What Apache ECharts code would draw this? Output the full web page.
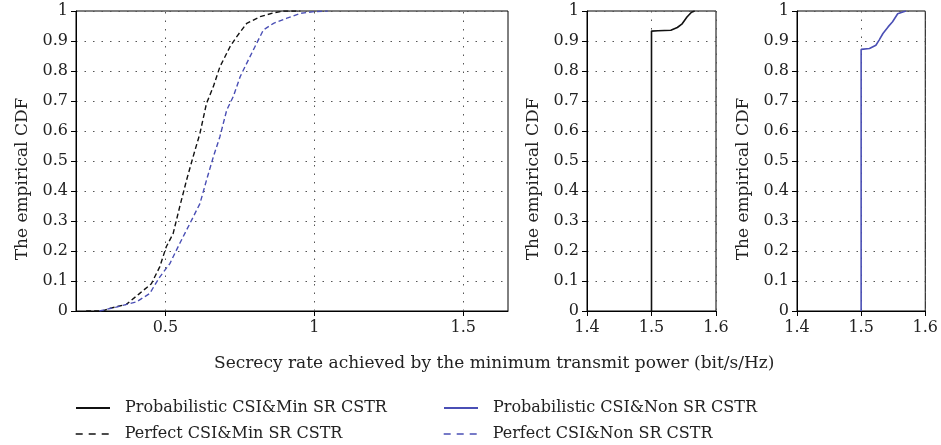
<!DOCTYPE html>
<html>
<head>
<meta charset="utf-8">
<script src="https://cdn.jsdelivr.net/npm/echarts@6/dist/echarts.min.js"></script>
<style>
  html, body { margin: 0; padding: 0; background: #fff; }
  #chart { width: 941px; height: 445px; }
</style>
</head>
<body>
<div id="chart"></div>
<script>
// ===== data =====
var perfectMin = [ // black dashed, main panel
    [0.234, 0], [0.29, 0], [0.31, 0.008], [0.369, 0.022], [0.413, 0.058], [0.453, 0.091],
    [0.481, 0.147], [0.503, 0.214], [0.526, 0.258], [0.548, 0.347], [0.571, 0.436],
    [0.593, 0.514], [0.616, 0.592], [0.638, 0.692], [0.661, 0.748], [0.683, 0.814],
    [0.717, 0.881], [0.739, 0.914], [0.773, 0.959], [0.818, 0.981], [0.863, 0.994],
    [0.897, 1], [0.953, 1]
];
var perfectNon = [ // blue dashed, main panel
    [0.279, 0], [0.335, 0.013], [0.402, 0.03], [0.447, 0.058], [0.481, 0.113], [0.515, 0.158],
    [0.548, 0.225], [0.582, 0.291], [0.616, 0.358], [0.638, 0.436], [0.661, 0.514],
    [0.683, 0.581], [0.706, 0.67], [0.728, 0.715], [0.751, 0.781], [0.784, 0.848],
    [0.829, 0.937], [0.863, 0.959], [0.908, 0.976], [0.953, 0.992], [1.0, 0.998], [1.045, 1]
];
var probMin = [ // black solid, middle panel
    [1.5, 0], [1.5, 0.933], [1.51, 0.934], [1.53, 0.936], [1.54, 0.945], [1.547, 0.956],
    [1.555, 0.98], [1.562, 0.996], [1.567, 1]
];
var probNon = [ // blue solid, right panel
    [1.5, 0], [1.5, 0.872], [1.513, 0.875], [1.523, 0.886], [1.528, 0.903], [1.534, 0.925],
    [1.542, 0.947], [1.549, 0.964], [1.557, 0.991], [1.565, 0.997], [1.57, 1]
];
var mainTicks = [0.5, 1, 1.5];
var names = [
    'Probabilistic CSI&Min SR CSTR',
    'Perfect CSI&Min SR CSTR',
    'Probabilistic CSI&Non SR CSTR',
    'Perfect CSI&Non SR CSTR'
];
var yTitle = 'The empirical CDF';
var xTitle = 'Secrecy rate achieved by the minimum transmit power (bit/s/Hz)';

var FONT = 'DejaVu Serif';
var BLUE = '#4a4fb5';
var chart = echarts.init(document.getElementById('chart'));

var gridLine = { show: true, lineStyle: { color: '#555', type: [1.5, 7], width: 1 } };

function yAx(idx) {
    return {
        gridIndex: idx, type: 'value', min: 0, max: 1, interval: 0.1,
        name: yTitle, nameLocation: 'middle', nameGap: 45, nameRotate: 90,
        // 标题比网格中心略靠下，用右侧 padding 推下去
        nameTextStyle: { fontFamily: FONT, fontSize: 17, color: '#222', padding: [0, 36, 0, 0] },
        axisLine: { show: true, lineStyle: { color: '#000' } },
        axisTick: { show: true, length: 5, lineStyle: { color: '#000' } },
        axisLabel: { fontFamily: FONT, fontSize: 16, color: '#222', margin: 8 },
        splitLine: gridLine
    };
}
function xSmall(idx) {
    return {
        gridIndex: idx, type: 'value', min: 1.4, max: 1.6, interval: 0.1,
        axisLine: { show: true, onZero: false, lineStyle: { color: '#000' } },
        axisTick: { show: true, length: 5, lineStyle: { color: '#000' } },
        axisLabel: { fontFamily: FONT, fontSize: 16, color: '#222', margin: 9,
            formatter: function (v) { return v.toFixed(1); } },
        splitLine: gridLine
    };
}
// 图例：每项单独一个 legend，手动摆位置
function legendAt(name, left, top, dashed) {
    var lg = {
        left: left, top: top, itemWidth: 34, itemHeight: 14,
        data: [name],
        itemStyle: { opacity: 0 },
        textStyle: { fontFamily: FONT, fontSize: 16, color: '#222', padding: [0, 0, 0, 10] }
    };
    if (dashed) lg.lineStyle = { type: [7, 6], width: 1.4 };
    return lg;
}

var option = {
    backgroundColor: '#fff',
    animation: false,
    grid: [
        { left: 76, top: 11, width: 432, height: 300, show: true, borderColor: '#000', borderWidth: 1 },
        { left: 587, top: 11, width: 129, height: 300, show: true, borderColor: '#000', borderWidth: 1 },
        { left: 797, top: 11, width: 129, height: 300, show: true, borderColor: '#000', borderWidth: 1 }
    ],
    xAxis: [
        {
            gridIndex: 0, type: 'value', min: 0.2, max: 1.65,
            axisLine: { show: true, onZero: false, lineStyle: { color: '#000' } },
            axisTick: { show: true, length: 5, customValues: mainTicks, lineStyle: { color: '#000' } },
            axisLabel: { fontFamily: FONT, fontSize: 16, color: '#222', margin: 9, customValues: mainTicks },
            splitLine: { show: false }
        },
        xSmall(1),
        xSmall(2)
    ],
    yAxis: [yAx(0), yAx(1), yAx(2)],
    legend: [
        legendAt(names[0], 70, 395, false),
        legendAt(names[1], 70, 421, true),
        legendAt(names[2], 438, 395, false),
        legendAt(names[3], 438, 421, true)
    ],
    graphic: [{
        type: 'text', left: 214, top: 355,
        style: { text: xTitle, fontFamily: FONT, fontSize: 17, fill: '#222' }
    }],
    series: [
        {
            name: names[1], type: 'line', xAxisIndex: 0, yAxisIndex: 0, data: perfectMin,
            symbol: 'none', color: '#111', lineStyle: { color: '#111', width: 1.4, type: [5, 3] },
            markLine: {
                silent: true, symbol: 'none', label: { show: false },
                lineStyle: { color: '#555', type: [1.5, 7], width: 1 },
                data: mainTicks.map(function (v) { return { xAxis: v }; })
            }
        },
        {
            name: names[3], type: 'line', xAxisIndex: 0, yAxisIndex: 0, data: perfectNon,
            symbol: 'none', color: BLUE, lineStyle: { color: BLUE, width: 1.4, type: [5, 3] }
        },
        {
            name: names[0], type: 'line', xAxisIndex: 1, yAxisIndex: 1, data: probMin,
            symbol: 'none', color: '#111', lineStyle: { color: '#111', width: 1.6 }
        },
        {
            name: names[2], type: 'line', xAxisIndex: 2, yAxisIndex: 2, data: probNon,
            symbol: 'none', color: BLUE, lineStyle: { color: BLUE, width: 1.6 }
        }
    ]
};
chart.setOption(option);
</script>
</body>
</html>
